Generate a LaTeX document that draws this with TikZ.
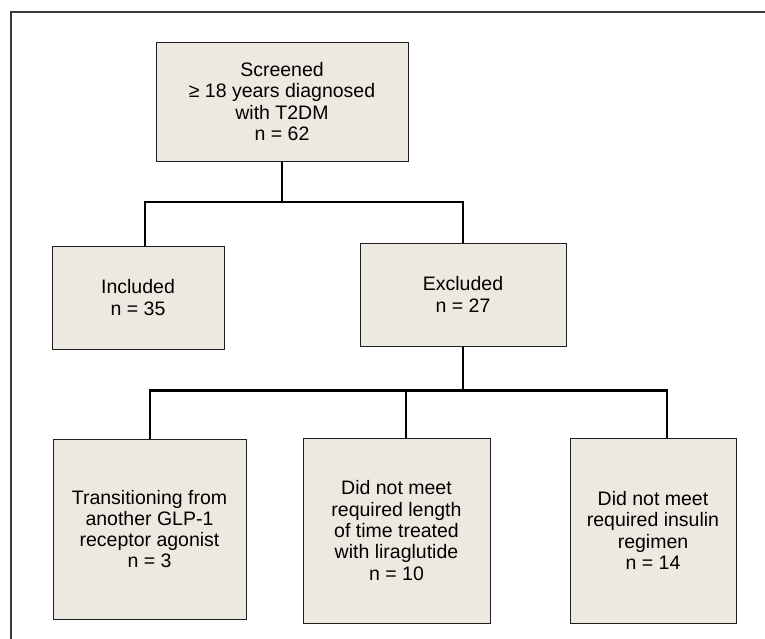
\documentclass[tikz,border=0pt]{standalone}
\usepackage{fontspec}
\setmainfont{Liberation Sans}
\definecolor{boxfill}{HTML}{EDE9E0}
\definecolor{frameline}{HTML}{3A3A3A}
\begin{document}
\begin{tikzpicture}[x=1pt,y=1pt,
  box/.style={draw=black!88, line width=1pt, fill=boxfill, inner sep=0pt, align=center,
    font=\fontsize{19.5}{21.3}\selectfont},
  conn/.style={draw=black, line width=2.6pt}]
\useasboundingbox (0,0) rectangle (765,-638);
\draw[frameline, line width=1.6pt] (11,-640) -- (11,-12) -- (767,-12);
\node[box, minimum width=252, minimum height=119] (top) at (282,-101.5)
  {Screened\\≥ 18 years diagnosed\\with T2DM\\n = 62};
\node[box, minimum width=172, minimum height=103] (inc) at (138,-297.5)
  {Included\\n = 35};
\node[box, minimum width=206, minimum height=103] (exc) at (463,-294.5)
  {Excluded\\n = 27};
\node[box, minimum width=193, minimum height=180] (b1) at (149.5,-529)
  {Transitioning from\\another GLP-1\\receptor agonist\\n = 3};
\node[box, minimum width=187, minimum height=185] (b2) at (396.5,-530.5)
  {Did not meet\\required length\\of time treated\\with liraglutide\\n = 10};
\node[box, minimum width=166, minimum height=185] (b3) at (653,-530.5)
  {Did not meet\\required insulin\\regimen\\n = 14};
\coordinate (h1l) at (145,-202);
\coordinate (h1r) at (463,-202);
\coordinate (h2l) at (150,-390.5);
\coordinate (h2m) at (406,-390.5);
\coordinate (h2r) at (667,-390.5);
\draw[conn] (top.south) -- (top.south |- h1l);
\draw[conn] (inc.north -| h1l) -- (h1l) -- (h1r) -- (exc.north);
\draw[conn] (exc.south) -- (exc.south |- h2l);
\draw[conn] (b1.north -| h2l) -- (h2l) -- (h2r) -- (b3.north -| h2r);
\draw[conn] (b2.north -| h2m) -- (h2m);
\end{tikzpicture}
\end{document}
